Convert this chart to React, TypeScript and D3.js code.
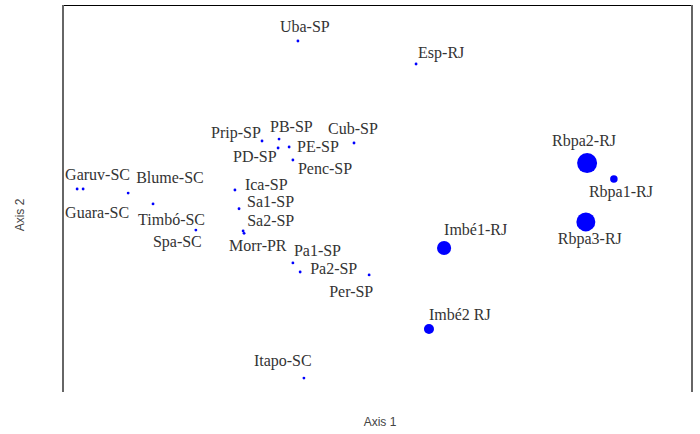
import React from "react";
import * as d3 from "d3";

// Sites and their ordination scores
const sites = [
  "Uba-SP", "Esp-RJ", "Prip-SP", "PB-SP", "PD-SP", "PE-SP", "Penc-SP", "Cub-SP",
  "Ica-SP", "Sa1-SP", "Sa2-SP", "Morr-PR", "Pa1-SP", "Pa2-SP", "Per-SP", "Itapo-SC",
  "Garuv-SC", "Guara-SC", "Blume-SC", "Timbó-SC", "Spa-SC",
  "Imbé1-RJ", "Imbé2 RJ", "Rbpa2-RJ", "Rbpa1-RJ", "Rbpa3-RJ",
];
const axis1 = [
  -0.251, 0.124, -0.365, -0.311, -0.314, -0.279, -0.267, -0.073,
  -0.451, -0.438, -0.425, -0.422, -0.267, -0.244, -0.025, -0.232,
  -0.933, -0.952, -0.79, -0.711, -0.575,
  0.213, 0.165, 0.667, 0.752, 0.663,
];
const axis2 = [
  0.814, 0.695, 0.297, 0.307, 0.261, 0.266, 0.199, 0.287,
  0.044, -0.053, -0.168, -0.18, -0.333, -0.38, -0.395, -0.928,
  0.049, 0.049, 0.028, -0.028, -0.163,
  -0.256, -0.674, 0.183, 0.101, -0.121,
];
const abundance = [
  2, 2, 2, 2, 2, 2, 2, 2,
  2, 2, 2, 2, 2, 2, 2, 2,
  2, 2, 2, 2, 2,
  50, 25, 100, 14, 90,
];

// label offsets from each point (layout only)
const labelOffset: Record<string, [number, number]> = {
  "Uba-SP": [-18, -9], "Esp-RJ": [2, -6], "Prip-SP": [-51, -3], "PB-SP": [-9, -7],
  "PD-SP": [-45, 14], "PE-SP": [8, 5], "Penc-SP": [5, 14], "Cub-SP": [-26, -9],
  "Ica-SP": [10, 0], "Sa1-SP": [8, -2], "Sa2-SP": [4, -5], "Morr-PR": [-15, 18],
  "Pa1-SP": [1, -7], "Pa2-SP": [10, 2], "Per-SP": [-40, 22], "Itapo-SC": [-50, -12],
  "Garuv-SC": [-18, -9], "Guara-SC": [-12, 29], "Blume-SC": [8, -10],
  "Timbó-SC": [-15, 21], "Spa-SC": [-43, 17], "Imbé1-RJ": [0, -13],
  "Imbé2 RJ": [0, -9], "Rbpa2-RJ": [-35, -17], "Rbpa1-RJ": [-25, 18], "Rbpa3-RJ": [-28, 22],
};

const width = 700;
const height = 434;
const left = 62;
const right = 692;
const top = 5;
const bottom = 392;

const App = () => {
  const data = sites.map((name, i) => ({
    name,
    a1: axis1[i],
    a2: axis2[i],
    n: abundance[i],
  }));

  const x = d3.scaleLinear().domain([-1, 1]).range([left, right]);
  const y = d3.scaleLinear().domain([-1, 1]).range([bottom, top]);
  const r = d3.scaleSqrt().domain([0, d3.max(abundance) as number]).range([0, 10]);

  return (
    <svg width={width} height={height} style={{ position: "absolute", left: 0, top: 0 }}>
      {/* frame, no bottom edge */}
      <line x1={left} x2={right} y1={top + 0.5} y2={top + 0.5} stroke="#000" />
      <line x1={left + 1} x2={left + 1} y1={top} y2={bottom} stroke="#666" strokeWidth={2} />
      <line x1={right} x2={right} y1={top} y2={bottom} stroke="#666" strokeWidth={2} />

      <g fill="#0000ff">
        {data.map((d) => (
          <circle key={d.name} cx={x(d.a1)} cy={y(d.a2)} r={Math.max(1.4, r(d.n))} />
        ))}
      </g>

      {data.map((d) => (
        <text
          key={d.name}
          x={x(d.a1) + labelOffset[d.name][0]}
          y={y(d.a2) + labelOffset[d.name][1]}
          fill="#333"
          style={{ fontFamily: '"Liberation Serif"', fontSize: "16px" }}
        >
          {d.name}
        </text>
      ))}

      <text x={380} y={426} textAnchor="middle" fill="#444"
        style={{ fontFamily: '"Liberation Sans"', fontSize: "12px" }}>
        Axis 1
      </text>
      <text transform="translate(24,215) rotate(-90)" textAnchor="middle" fill="#444"
        style={{ fontFamily: '"Liberation Sans"', fontSize: "12px" }}>
        Axis 2
      </text>
    </svg>
  );
};

export default App;
